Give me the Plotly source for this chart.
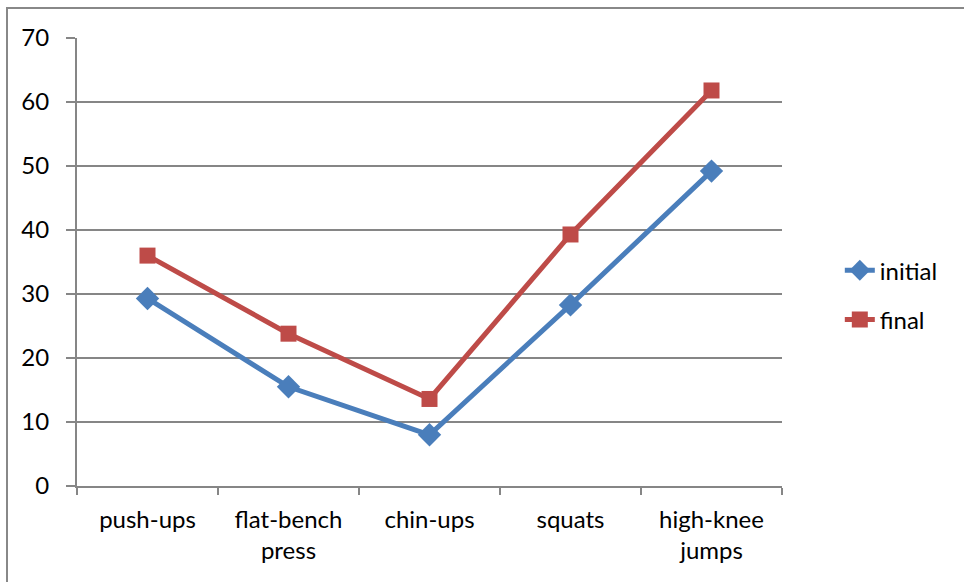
import plotly.graph_objects as go

categories = ["push-ups", "flat-bench press", "chin-ups", "squats", "high-knee jumps"]
tick_labels = ["push-ups", "flat-bench<br>press", "chin-ups", "squats", "high-knee<br>jumps"]
initial = [29.3, 15.5, 8.0, 28.3, 49.2]
final = [36.0, 23.8, 13.6, 39.3, 61.8]

FONT = "Lato"
GRID = "#868686"

fig = go.Figure()
fig.add_trace(go.Scatter(
    x=categories, y=initial, name="initial", mode="lines+markers", legendgroup="a",
    line=dict(color="#4A7EBB", width=5),
    marker=dict(symbol="diamond", size=18, color="#4A7EBB"),
))
fig.add_trace(go.Scatter(
    x=categories, y=final, name="final", mode="lines+markers", legendgroup="b",
    line=dict(color="#BE4B48", width=5),
    marker=dict(symbol="square", size=16, color="#BE4B48"),
))

fig.update_layout(
    width=964, height=582,
    margin=dict(l=77, r=182, t=38, b=96),
    paper_bgcolor="white", plot_bgcolor="white",
    font=dict(family=FONT, size=24, color="#000000"),
    showlegend=True,
    legend=dict(x=1.082, y=0.426, xanchor="left", yanchor="middle",
                font=dict(family=FONT, size=24), tracegroupgap=15,
                itemwidth=30, bgcolor="rgba(0,0,0,0)"),
    xaxis=dict(
        type="category", tickmode="array", tickvals=categories, ticktext=tick_labels,
        tickson="boundaries", ticks="outside", ticklen=7, tickwidth=2, tickcolor=GRID,
        showline=True, linecolor=GRID, linewidth=2, showgrid=False, zeroline=False,
        range=[-0.5, 4.5], ticklabelstandoff=11,
    ),
    yaxis=dict(
        range=[0, 70], dtick=10, tick0=0, ticks="outside", ticklen=9, tickwidth=2,
        tickcolor=GRID, showline=True, linecolor=GRID, linewidth=2,
        showgrid=True, gridcolor=GRID, gridwidth=2, zeroline=False,
        ticklabelstandoff=12,
    ),
    shapes=[dict(type="rect", xref="paper", yref="paper",
                 x0=(7 - 77) / 705, x1=1.5, y0=-0.5, y1=(486 - 8) / 448,
                 line=dict(color="#888888", width=2), fillcolor="rgba(0,0,0,0)",
                 layer="below")],
)

fig.write_html("out.html", config={"displayModeBar": False},
               post_script="document.body.style.margin='0';")
